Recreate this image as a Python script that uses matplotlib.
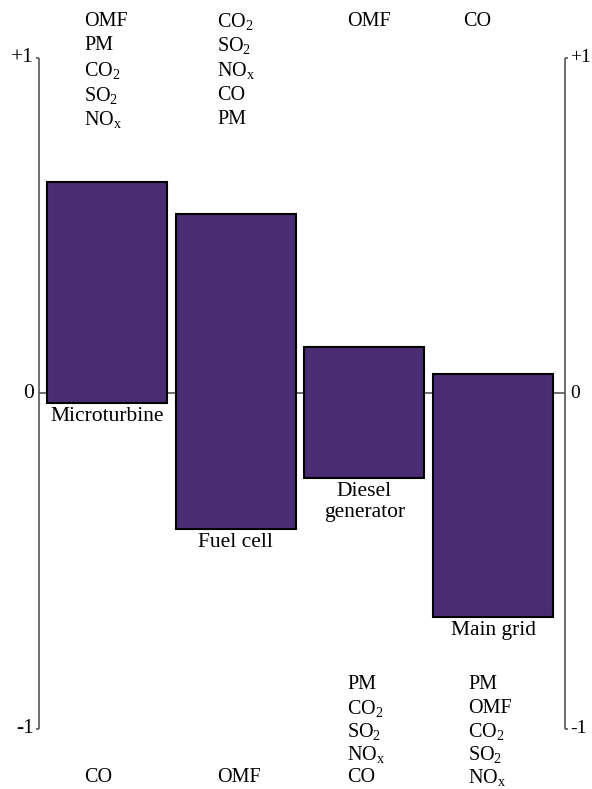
import matplotlib
matplotlib.use('Agg')
import matplotlib.pyplot as plt

plt.rcParams['font.family'] = 'Liberation Serif'
plt.rcParams['mathtext.fontset'] = 'custom'
plt.rcParams['mathtext.rm'] = 'Liberation Serif'
plt.rcParams['mathtext.it'] = 'Liberation Serif:italic'

# Данные
names = ['Microturbine', 'Fuel cell', 'Diesel\ngenerator', 'Main grid']
phi_plus = [0.63, 0.533, 0.136, 0.057]
phi_minus = [-0.029, -0.406, -0.254, -0.667]

top_lists = [
    ['OMF', 'PM', 'CO$_2$', 'SO$_2$', r'NO$_\mathrm{x}$'],
    ['CO$_2$', 'SO$_2$', r'NO$_\mathrm{x}$', 'CO', 'PM'],
    ['OMF'],
    ['CO'],
]
bottom_lists = [
    ['CO'],
    ['OMF'],
    ['PM', 'CO$_2$', 'SO$_2$', r'NO$_\mathrm{x}$', 'CO'],
    ['PM', 'OMF', 'CO$_2$', 'SO$_2$', r'NO$_\mathrm{x}$'],
]
y_ticks = [1, 0, -1]
y_ticklabels = ['+1', '0', '-1']

# Пиксели -> координаты данных (оси на всю картинку)
W, H = 592, 789
x0_px, dx_px = 107, 128.7   # центр первого столбца, шаг
y0_px, dy_px = 393, 335.5   # ноль, пикселей на единицу


def px_x(p):
    return (p - x0_px) / dx_px


def px_y(p):
    return (y0_px - p) / dy_px


fig = plt.figure(figsize=(W / 100, H / 100), dpi=100)
ax = fig.add_axes([0, 0, 1, 1])
ax.set_xlim(px_x(0), px_x(W))
ax.set_ylim(px_y(H), px_y(0))
ax.axis('off')

fs = 14.5      # списки
fs_lab = 15.5  # подписи столбцов и оси
col = '#555555'
xl, xr = px_x(39), px_x(565)
hook = 3 / dx_px

# Оси
ax.vlines([xl, xr], -1, 1, color=col, lw=1.2, zorder=1)
ax.hlines(0, xl, xr, color=col, lw=1.2, zorder=1)
for yv in [1, -1]:
    ax.hlines(yv, xl - hook, xl, color=col, lw=1.2)
    ax.hlines(yv, xr, xr + hook, color=col, lw=1.2)

for yv, lab in zip(y_ticks, y_ticklabels):
    ax.text(xl - 5 / dx_px, yv, lab, ha='right', va='center', fontsize=fs_lab)
    ax.text(xr + 5 / dx_px, yv, lab, ha='left', va='center', fontsize=14)

# Столбцы
xs = range(len(names))
heights = [p - m for p, m in zip(phi_plus, phi_minus)]
ax.bar(xs, heights, bottom=phi_minus, width=120 / dx_px,
       color='#4a2c73', edgecolor='black', linewidth=1.5, zorder=2)

for i, name in enumerate(names):
    ax.annotate(name, (i, phi_minus[i]), xytext=(0, -3), textcoords='offset points',
                ha='center', va='top', fontsize=fs_lab, linespacing=1.15)

# Списки критериев
top_x = [84, 217, 347, 463]
bot_x = [84, 217, 347, 468]
for i, items in enumerate(top_lists):
    for j, t in enumerate(items):
        ax.text(px_x(top_x[i]), px_y(21 + 24.7 * j), t, ha='left', va='center', fontsize=fs)
for i, items in enumerate(bottom_lists):
    n = len(items)
    for j, t in enumerate(items):
        ax.text(px_x(bot_x[i]), px_y(778 - 23.3 * (n - 1 - j)), t, ha='left', va='center', fontsize=fs)

plt.savefig('out.png', dpi=100)
